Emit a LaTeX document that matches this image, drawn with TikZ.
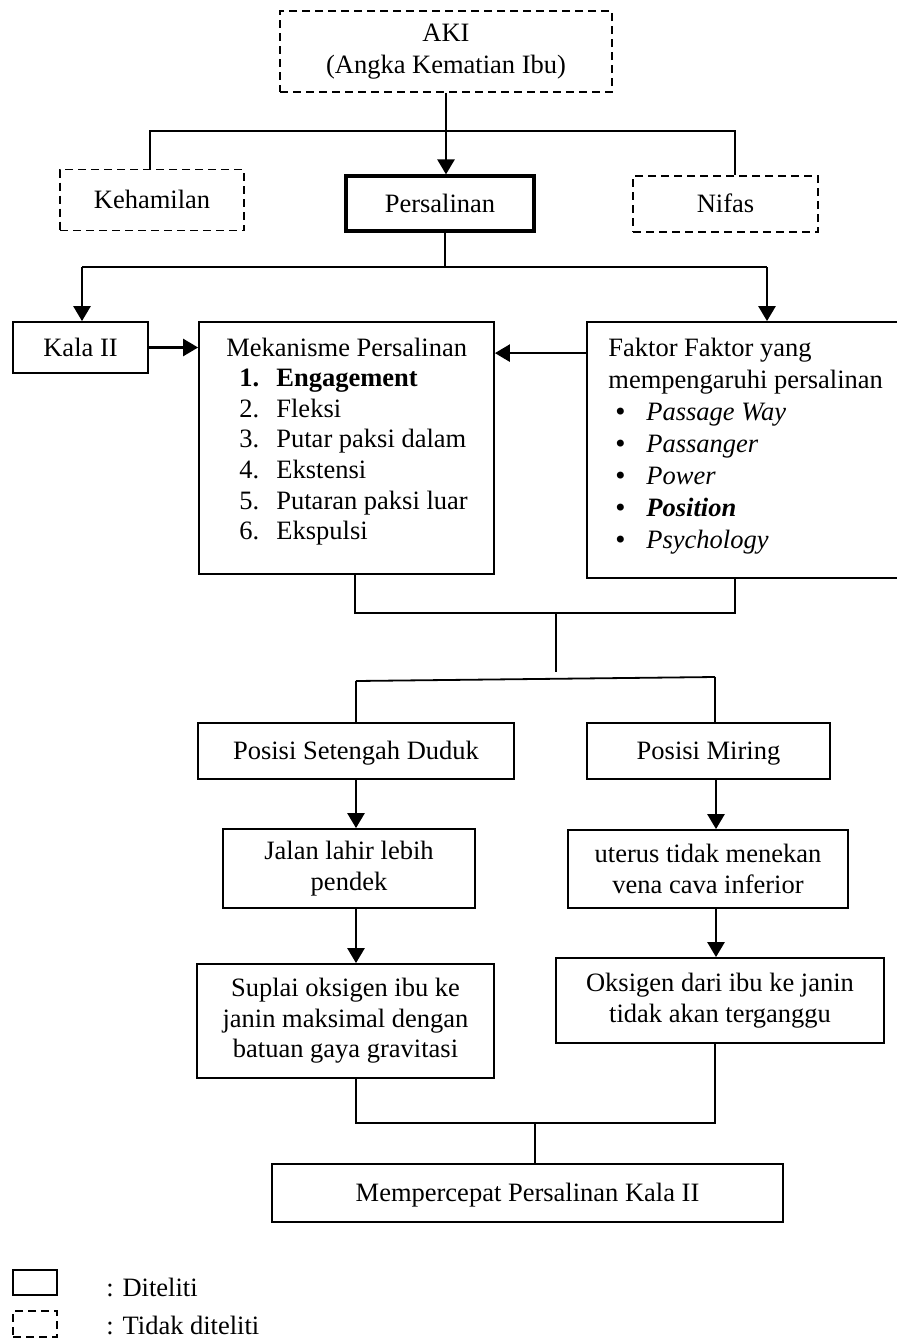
\documentclass[tikz,border=0pt]{standalone}
\usepackage{fontspec}
\setmainfont{Liberation Serif}
\newfontfamily\bulfont{DejaVu Sans}
\usetikzlibrary{arrows.meta}
\newcommand{\numitem}[2]{\hspace*{6.5pt}\makebox[18.5pt][l]{#1}#2}
\newcommand{\bulitem}[1]{\hspace*{2.5pt}\makebox[16.5pt][l]{{\bulfont\fontsize{12pt}{12pt}\selectfont •}}#1}

\begin{document}
\begin{tikzpicture}[x=0.5pt, y=-0.5pt,
  font=\fontsize{13.25pt}{15.3pt}\selectfont,
  box/.style={draw, line width=0.9pt, inner sep=0pt, align=center},
  dbox/.style={box, dash pattern=on 4pt off 2.5pt},
  tline/.style={text height=10.2pt, text depth=1.5pt},
  line/.style={line width=0.9pt},
  arrow/.style={line width=1.3pt, -{Triangle[length=7.5pt, width=8.5pt]}}
]
  \useasboundingbox (0,0) rectangle (897,1339);
  \clip (0,0) rectangle (897,1339);

  % upper level
  \node[dbox, minimum width=166pt, minimum height=40.5pt,
        font=\fontsize{13.25pt}{16pt}\selectfont] (aki) at (446,51.5)
        {AKI\\(Angka Kematian Ibu)};
  \node[dbox, tline, minimum width=92pt, minimum height=30.5pt] (hamil) at (152,200) {Kehamilan};
  \node[box, tline, line width=1.6pt, minimum width=94pt, minimum height=27.5pt] (salin) at (440,203.5) {Persalinan};
  \node[dbox, tline, minimum width=92.5pt, minimum height=28pt] (nifas) at (725.5,204) {Nifas};

  % middle level
  \node[box, tline, minimum width=67.5pt, minimum height=25.5pt] (kala) at (80.5,347.5) {Kala II};
  \node[box, minimum width=147.5pt, minimum height=126pt] (mek) at (346.5,448) {};
  \node[inner sep=0pt, anchor=base west] (mektxt) at (226,356)
    {\begin{tabular}[t]{@{}l@{}}
      Mekanisme Persalinan\\
      \numitem{\textbf{1.}}{\textbf{Engagement}}\\
      \numitem{2.}{Fleksi}\\
      \numitem{3.}{Putar paksi dalam}\\
      \numitem{4.}{Ekstensi}\\
      \numitem{5.}{Putaran paksi luar}\\
      \numitem{6.}{Ekspulsi}
    \end{tabular}};
  \node[box, minimum width=160pt, minimum height=128pt] (faktor) at (747,450) {};
  \node[inner sep=0pt, anchor=base west, font=\fontsize{13.25pt}{16pt}\selectfont] (faktortxt) at (608,356)
    {\begin{tabular}[t]{@{}l@{}}
      Faktor Faktor yang\\
      mempengaruhi persalinan\\
      \bulitem{\textit{Passage Way}}\\
      \bulitem{\textit{Passanger}}\\
      \bulitem{\textit{Power}}\\
      \bulitem{\textbf{\textit{Position}}}\\
      \bulitem{\textit{Psychology}}
    \end{tabular}};

  % lower level
  \node[box, tline, minimum width=158pt, minimum height=28pt] (duduk) at (356,751) {Posisi Setengah Duduk};
  \node[box, tline, minimum width=121.5pt, minimum height=28pt] (miring) at (708.5,751) {Posisi Miring};
  \node[box, minimum width=126pt, minimum height=39.5pt] (jalan) at (349,868.5) {Jalan lahir lebih\\pendek};
  \node[box, minimum width=140pt, minimum height=39pt] (uterus) at (708,869) {uterus tidak menekan\\vena cava inferior};
  \node[box, minimum width=148.5pt, minimum height=57pt] (suplai) at (345.5,1021)
        {Suplai oksigen ibu ke\\janin maksimal dengan\\batuan gaya gravitasi};
  \node[box, minimum width=164pt, minimum height=42.5pt] (oksigen) at (720,1000.5)
        {Oksigen dari ibu ke janin\\tidak akan terganggu};
  \node[box, tline, minimum width=255.5pt, minimum height=29pt] (cepat) at (527.5,1193) {Mempercepat Persalinan Kala II};

  % legend
  \node[box, minimum width=22pt, minimum height=12.5pt] (legdit) at (35,1282.5) {};
  \node[dbox, minimum width=22pt, minimum height=13pt] (legtdk) at (35,1324) {};
  \node[anchor=west, inner sep=0pt] (legdittxt) at (106,1287) {: Diteliti};
  \node[anchor=west, inner sep=0pt] (legtdktxt) at (106,1325) {: Tidak diteliti};

  % connectors top
  \coordinate (t1) at (150,131);
  \coordinate (t2) at (735,131);
  \draw[line] (hamil.north -| t1) -- (t1) -- (t2) -- (nifas.north -| t2);
  \draw[arrow] (aki.south) -- (aki.south |- salin.north);
  \coordinate (p1) at (445,267);
  \coordinate (l1) at (82,267);
  \coordinate (r1) at (767,267);
  \draw[line] (salin.south -| p1) -- (p1);
  \draw[line] (l1) -- (r1);
  \draw[arrow] (l1) -- (l1 |- kala.north);
  \draw[arrow] (r1) -- (r1 |- faktor.north);
  \draw[arrow] (kala.east) -- (kala.east -| mek.west);
  \draw[arrow] ([yshift=-16pt]faktor.north west) -- ([yshift=-16pt]faktor.north west -| mek.east);

  % connectors middle
  \coordinate (m1) at (355,613);
  \coordinate (m2) at (735,613);
  \coordinate (m3) at (556,613);
  \coordinate (m4) at (556,672);
  \coordinate (b1) at (356,681);
  \coordinate (b2) at (715,677);
  \draw[line] (mek.south -| m1) -- (m1) -- (m2) -- (faktor.south -| m2);
  \draw[line] (m3) -- (m4);
  \draw[line] (b1) -- (b2);
  \draw[line] (b1) -- (b1 |- duduk.north);
  \draw[line] (b2) -- (b2 |- miring.north);

  % connectors lower
  \coordinate (a1) at (356,0);
  \coordinate (a2) at (716,0);
  \draw[arrow] (duduk.south -| a1) -- (jalan.north -| a1);
  \draw[arrow] (jalan.south -| a1) -- (suplai.north -| a1);
  \draw[arrow] (miring.south -| a2) -- (uterus.north -| a2);
  \draw[arrow] (uterus.south -| a2) -- (oksigen.north -| a2);
  \coordinate (c1) at (356,1123);
  \coordinate (c2) at (715,1123);
  \coordinate (c3) at (535,1123);
  \draw[line] (suplai.south -| c1) -- (c1) -- (c2) -- (oksigen.south -| c2);
  \draw[line] (c3) -- (c3 |- cepat.north);
\end{tikzpicture}
\end{document}
